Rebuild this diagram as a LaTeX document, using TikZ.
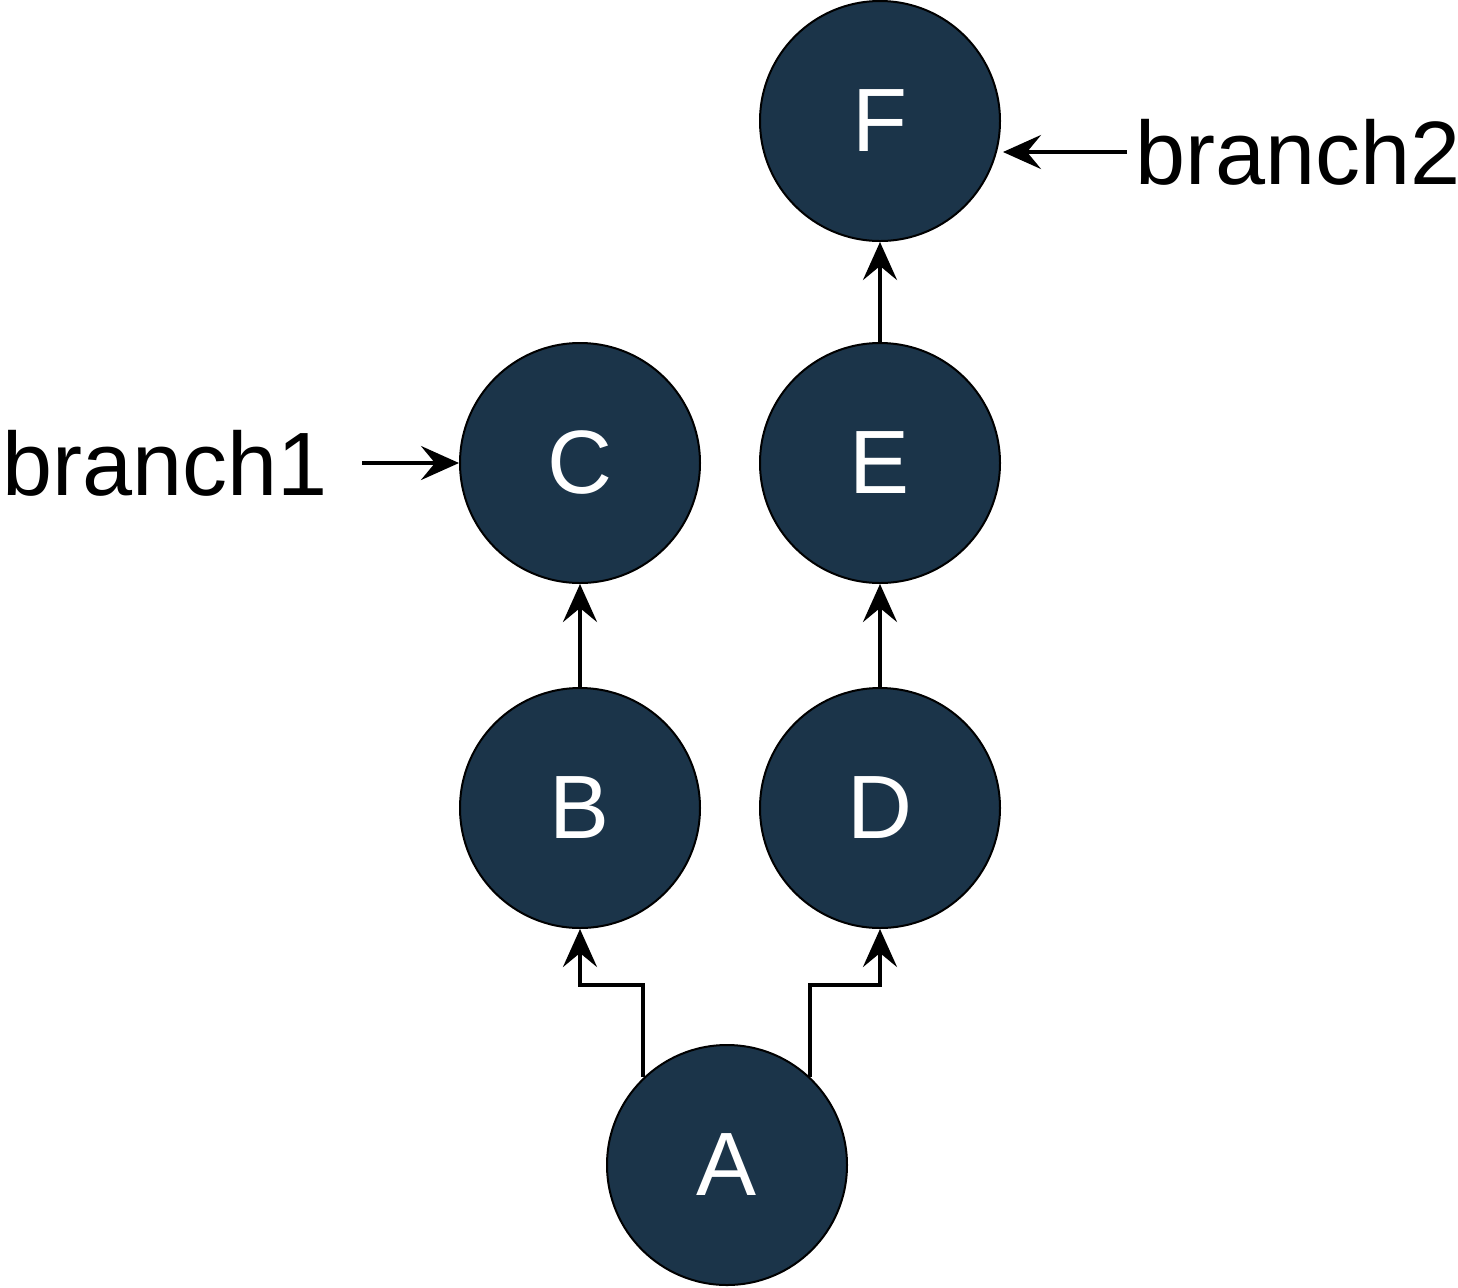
\documentclass[tikz,border=0pt]{standalone}
\usepackage{fontspec}
\setmainfont{Liberation Sans}
\usetikzlibrary{arrows.meta}
\definecolor{nodefill}{HTML}{1B3449}
\begin{document}
\begin{tikzpicture}[x=0.5pt,y=-0.5pt,
  commit/.style={circle,draw=black,line width=1pt,fill=nodefill,minimum size=120pt,inner sep=0pt,text=white,font=\fontsize{45}{54}\selectfont},
  lbl/.style={inner sep=0pt,font=\fontsize{45}{54}\selectfont},
  conn/.style={line width=2pt,-{Stealth[length=19pt,width=17pt,inset=7pt]}}]
\useasboundingbox (0,0) rectangle (1458,1287);
\node[commit] (F) at (880,121) {F};
\node[commit] (C) at (580,463) {C};
\node[commit] (E) at (880,463) {E};
\node[commit] (B) at (580,808) {B};
\node[commit] (D) at (880,808) {D};
\node[commit] (A) at (727,1165) {A};
\node[lbl,anchor=east] (b1) at (328,463) {branch1};
\node[lbl,anchor=west] (b2) at (1135,152) {branch2};
\coordinate (b1e) at (362,463);
\coordinate (b2e) at (1127,152);
\draw[conn] (b1e) -- (C.west);
\draw[conn] (b2e) -- (1003,152);
\draw[conn] (B) -- (C);
\draw[conn] (E) -- (F);
\draw[conn] (D) -- (E);
\draw[conn] (A.center) ++(-84,-88) -- ++(0,-92) -| (B.south);
\draw[conn] (A.center) ++(83,-88) -- ++(0,-92) -| (D.south);
\end{tikzpicture}
\end{document}
